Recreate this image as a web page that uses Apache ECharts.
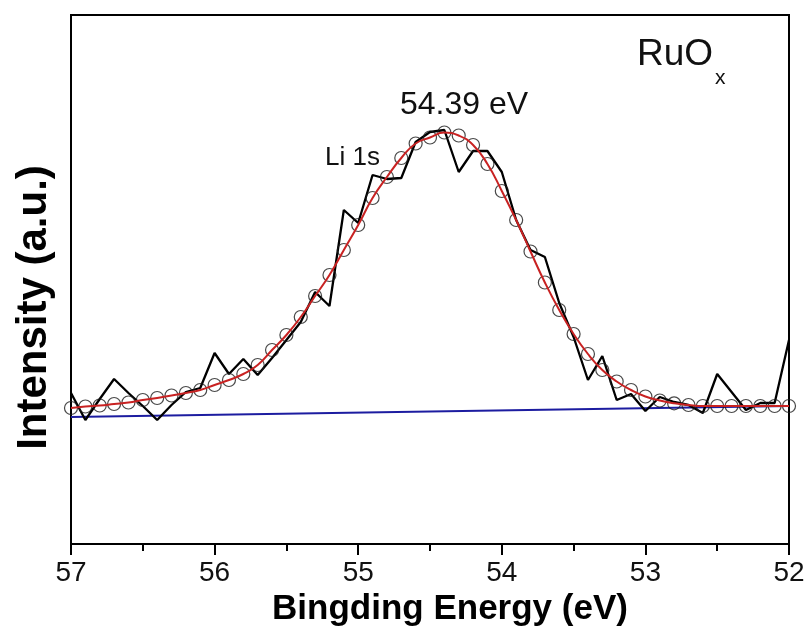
<!DOCTYPE html>
<html>
<head>
<meta charset="utf-8">
<script src="https://cdn.jsdelivr.net/npm/echarts@6/dist/echarts.min.js"></script>
<style>
html,body{margin:0;padding:0;background:#fff;}
#chart{width:810px;height:637px;}
</style>
</head>
<body>
<div id="chart"></div>
<script>
// Binding energies (eV), step 0.1 from 57.0 down to 52.0
const energies = [57.0,56.9,56.8,56.7,56.6,56.5,56.4,56.3,56.2,56.1,56.0,55.9,55.8,55.7,55.6,55.5,55.4,55.3,55.2,55.1,55.0,54.9,54.8,54.7,54.6,54.5,54.4,54.3,54.2,54.1,54.0,53.9,53.8,53.7,53.6,53.5,53.4,53.3,53.2,53.1,53.0,52.9,52.8,52.7,52.6,52.5,52.4,52.3,52.2,52.1,52.0];
// Raw measured intensity (a.u.)
const rawIntensity = [151,124,145,165,151,138,124,139,152,156,191,170,185,169,186,204,222,252,238,334,321,369,365,366,402,412,414,372,393,393,372,324,294,287,241,207,164,188,144,150,133,147,142,139,131,170,152,134,141,141,204];
// Fitted envelope (circles / red curve)
const fitIntensity = [136,137.5,138.5,140,141.5,144,146,148.5,151,154,159,164,170,179,194,209,227,248,269,294,319,346,367,386,400.5,406.5,411.5,408.5,399,380,353,324,292.5,261.5,234,210,190,174,162.5,154,147.5,143.5,140.7,139,138,138,138,138,138,138,138];
// Background line end points
const bgEnergies = [57.0, 52.0];
const bgIntensity = [127, 138];

const xTicks = ['57','56','55','54','53','52'];
const peakLabel = '54.39 eV';
const compLabel = 'Li 1s';
const sampleMain = 'RuO';
const sampleSub = 'x';

const zip = (xs, ys) => xs.map((x, i) => [x, ys[i]]);

const chart = echarts.init(document.getElementById('chart'));
const FONT = 'Arial, "Liberation Sans", Helvetica, sans-serif';
chart.setOption({
  animation: false,
  backgroundColor: '#fff',
  grid: {left: 71, right: 21, top: 15, bottom: 93, show: true, borderColor: '#000', borderWidth: 2},
  xAxis: {
    type: 'value', min: 52, max: 57, interval: 1, inverse: true,
    axisLine: {lineStyle: {color: '#000', width: 2}},
    axisTick: {show: true, length: 11, lineStyle: {color: '#000', width: 2}},
    minorTick: {show: true, splitNumber: 2, length: 7, lineStyle: {color: '#000', width: 2}},
    splitLine: {show: false},
    axisLabel: {fontFamily: FONT, fontSize: 28, color: '#111', margin: 15,
      formatter: v => xTicks[Math.round(57 - v)]},
    name: 'Bingding Energy (eV)', nameLocation: 'middle', nameGap: 47,
    nameTextStyle: {fontFamily: FONT, fontSize: 35, fontWeight: 'bold', color: '#000', padding: [0, 0, 0, 40]}
  },
  yAxis: {
    type: 'value', min: 0, max: 529,
    axisLine: {show: true, lineStyle: {color: '#000', width: 2}},
    axisTick: {show: false}, axisLabel: {show: false}, splitLine: {show: false},
    name: 'Intensity (a.u.)', nameLocation: 'middle', nameGap: 16,
    nameTextStyle: {fontFamily: FONT, fontSize: 42, fontWeight: 'bold', color: '#000', padding: [0, 56, 0, 0]}
  },
  graphic: [
    {type: 'text', left: 400, top: 89, style: {text: peakLabel, font: '32px ' + FONT, fill: '#111'}},
    {type: 'text', left: 325, top: 145, style: {text: compLabel, font: '26px ' + FONT, fill: '#111'}},
    {type: 'text', left: 637, top: 36, style: {text: sampleMain, font: '37px ' + FONT, fill: '#111'}},
    {type: 'text', left: 715, top: 68, style: {text: sampleSub, font: '21px ' + FONT, fill: '#111'}}
  ],
  series: [
    {type: 'line', data: zip(bgEnergies, bgIntensity), showSymbol: false, lineStyle: {color: '#1c1ca0', width: 2}, z: 2},
    {type: 'line', data: zip(energies, rawIntensity), showSymbol: false, lineStyle: {color: '#000', width: 2.3}, z: 3},
    {type: 'scatter', data: zip(energies, fitIntensity), symbol: 'circle', symbolSize: 13,
     itemStyle: {color: 'rgba(255,255,255,0)', borderColor: '#1a1a1a', borderWidth: 1.2}, z: 4},
    {type: 'line', data: zip(energies, fitIntensity), smooth: true, showSymbol: false, lineStyle: {color: '#c82222', width: 2}, z: 5}
  ]
});
</script>
</body>
</html>
